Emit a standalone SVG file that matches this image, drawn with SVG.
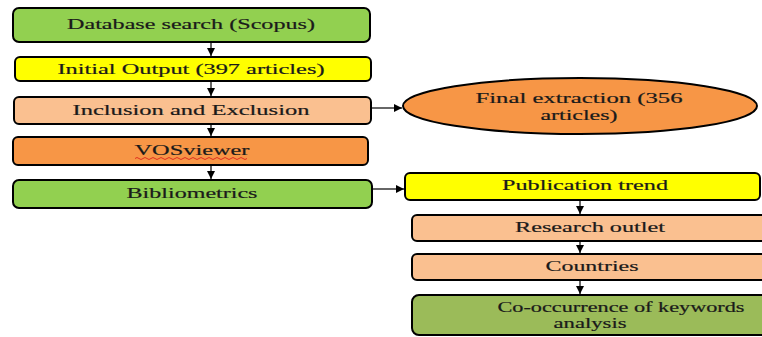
<svg xmlns="http://www.w3.org/2000/svg" width="762" height="337" viewBox="0 0 762 337">
<defs>
<style>
.box{stroke:#000;stroke-width:2}
.t{font-family:"Liberation Serif","Times New Roman",serif;font-size:15px;fill:#1a1a1a;text-anchor:middle;stroke:#1a1a1a;stroke-width:0.2}
.s{font-size:14px}
.c{stroke:#000;stroke-width:1.2;fill:none}
</style>
<marker id="ah" viewBox="0 0 10 10" refX="10" refY="5" markerWidth="8" markerHeight="8" markerUnits="userSpaceOnUse" orient="auto">
<path d="M0,0 L10,5 L0,10 z" fill="#000"/>
</marker>
</defs>
<rect width="762" height="337" fill="#fff"/>
<g id="n1"><rect class="box" x="13" y="8" width="357" height="34" rx="6" fill="#92D050"/><text class="t" x="191" y="29" textLength="248" lengthAdjust="spacingAndGlyphs">Database search (Scopus)</text></g>
<g id="n2"><rect class="box" x="15" y="57" width="356" height="24" rx="5" fill="#FFFF00"/><text class="t" x="191" y="74" textLength="267" lengthAdjust="spacingAndGlyphs">Initial Output (397 articles)</text></g>
<g id="n3"><rect class="box" x="14" y="97" width="357" height="27" rx="5" fill="#FAC090"/><text class="t" x="191" y="115" textLength="237" lengthAdjust="spacingAndGlyphs">Inclusion and Exclusion</text></g>
<g id="n4"><rect class="box" x="13" y="137" width="355" height="28" rx="5" fill="#F79646"/><text class="t" x="192" y="155" textLength="115" lengthAdjust="spacingAndGlyphs">VOSviewer</text><path d="M135,158.5 q2,-2 4,0 t4,0 t4,0 t4,0 t4,0 t4,0 t4,0 t4,0 t4,0 t4,0 t4,0 t4,0 t4,0 t4,0 t4,0 t4,0 t4,0 t4,0 t4,0 t4,0 t4,0 t4,0 t4,0 t4,0 t4,0 t4,0 t4,0 t4,0" fill="none" stroke="#E03020" stroke-width="1"/></g>
<g id="n5"><rect class="box" x="13" y="180" width="359" height="28" rx="6" fill="#92D050"/><text class="t" x="192" y="198" textLength="131" lengthAdjust="spacingAndGlyphs">Bibliometrics</text></g>
<g id="n6"><ellipse class="box" cx="580" cy="106" rx="177" ry="28" fill="#F79646"/><text class="t" x="579" y="103" textLength="207" lengthAdjust="spacingAndGlyphs">Final extraction (356</text><text class="t" x="579" y="120" textLength="77" lengthAdjust="spacingAndGlyphs">articles)</text></g>
<g id="n7"><rect class="box" x="405" y="173" width="355" height="27" rx="5" fill="#FFFF00"/><text class="t" x="585" y="190" textLength="166" lengthAdjust="spacingAndGlyphs">Publication trend</text></g>
<g id="n8"><rect class="box" x="412" y="215" width="360" height="26" rx="5" fill="#FAC090"/><text class="t" x="590" y="232" textLength="150" lengthAdjust="spacingAndGlyphs">Research outlet</text></g>
<g id="n9"><rect class="box" x="412" y="254" width="360" height="26" rx="5" fill="#FAC090"/><text class="t" x="592" y="271" textLength="93" lengthAdjust="spacingAndGlyphs">Countries</text></g>
<g id="n10"><rect class="box" x="412" y="295" width="360" height="40" rx="7" fill="#9BBB59"/><text class="t s" x="621" y="312" textLength="247" lengthAdjust="spacingAndGlyphs">Co-occurrence of keywords</text><text class="t s" x="590" y="328" textLength="73" lengthAdjust="spacingAndGlyphs">analysis</text></g>
<g id="connectors">
<line class="c" x1="211" y1="43" x2="211" y2="56" marker-end="url(#ah)"/>
<line class="c" x1="211" y1="82" x2="211" y2="96" marker-end="url(#ah)"/>
<line class="c" x1="211" y1="125" x2="211" y2="136" marker-end="url(#ah)"/>
<line class="c" x1="211" y1="166" x2="211" y2="179" marker-end="url(#ah)"/>
<line class="c" x1="371" y1="108" x2="402" y2="108" marker-end="url(#ah)"/>
<line class="c" x1="373" y1="189" x2="404" y2="189" marker-end="url(#ah)"/>
<line class="c" x1="580" y1="201" x2="580" y2="214" marker-end="url(#ah)"/>
<line class="c" x1="580" y1="242" x2="580" y2="253" marker-end="url(#ah)"/>
<line class="c" x1="580" y1="281" x2="580" y2="294" marker-end="url(#ah)"/>
</g>
</svg>
